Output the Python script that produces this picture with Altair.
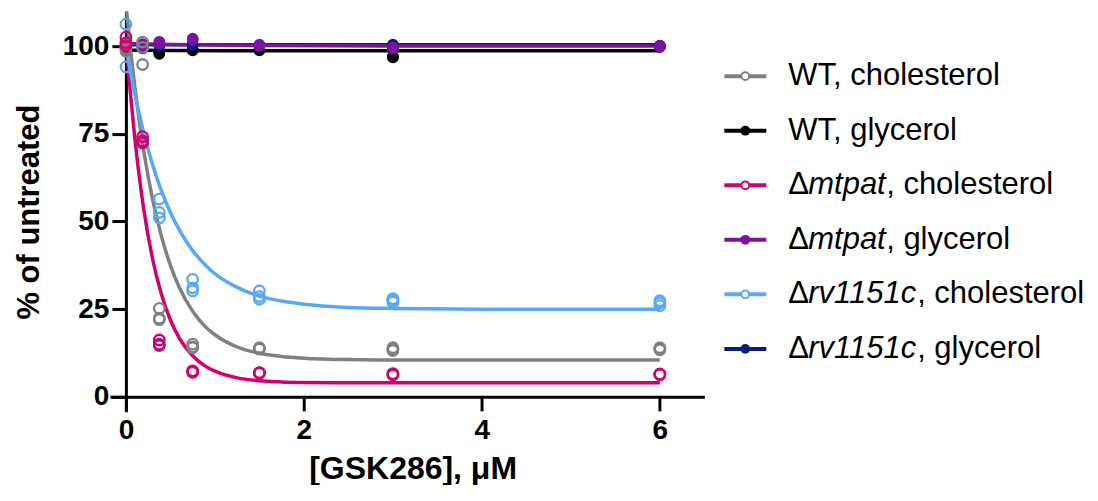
import altair as alt
import pandas as pd

# ---------------- data ----------------
conc = [0, 0.1875, 0.375, 0.75, 1.5, 3, 6]

series = ["WT, cholesterol", "WT, glycerol", "Δmtpat, cholesterol",
          "Δmtpat, glycerol", "Δrv1151c, cholesterol", "Δrv1151c, glycerol"]
colors = ["#808080", "#000000", "#D0006F", "#7A14A0", "#58A8F8", "#0B1C80"]

# replicate measurements (% of untreated) at each concentration
wt_chol = [[100.6, 99.3, 98.6], [101.2, 99.7, 94.8], [25.2, 22.4, 22.0],
           [15.0, 14.2, 14.0], [14.0, 13.8, 13.6], [14.0, 13.5, 13.2], [14.0, 13.6, 13.4]]
wt_gly = [[100.0, 99.2, 98.8], [100.3, 99.8, 99.5], [98.0, 97.8, 98.2],
          [99.0, 98.8, 99.2], [99.0, 98.8, 99.1], [96.8, 97.2, 96.9], [100.0, 99.8, 100.1]]
mtpat_chol = [[102.6, 101.0, 100.2], [74.2, 73.0, 72.4], [16.2, 15.0, 14.6],
              [7.4, 7.0, 7.2], [6.9, 6.7, 6.8], [6.6, 6.2, 6.4], [6.5, 6.3, 6.4]]
mtpat_gly = [[100.5, 99.8, 101.0], [100.4, 100.2, 100.6], [101.1, 100.8, 101.3],
             [102.2, 101.8, 102.0], [100.3, 100.1, 100.4], [99.3, 99.5, 99.6], [100.0, 99.9, 100.1]]
rv_chol = [[106.3, 94.1, 100.0], [100.0, 99.5, 100.2], [56.4, 52.6, 51.0],
           [33.5, 31.1, 30.2], [30.2, 28.6, 27.8], [28.0, 27.6, 27.0], [27.4, 26.8, 26.0]]
rv_gly = [[100.0, 100.2, 99.8], [100.0, 100.3, 99.9], [100.5, 100.2, 100.4],
          [100.6, 100.4, 100.3], [100.2, 100.1, 100.4], [100.3, 100.5, 100.2], [100.0, 100.2, 99.9]]

# fitted curves
curve_x = [0, 0.05, 0.1, 0.15, 0.2, 0.3, 0.4, 0.5, 0.6, 0.75, 0.9, 1.0,
           1.25, 1.5, 1.75, 2.0, 2.5, 3.0, 4.0, 5.0, 6.0]
wt_chol_fit = [112, 99.4, 88.4, 78.7, 70.2, 56.3, 45.7, 37.5, 31.2, 24.4, 19.8, 17.7,
               14.2, 12.4, 11.5, 11.0, 10.6, 10.5, 10.5, 10.5, 10.5]
mtpat_chol_fit = [102, 86.7, 73.8, 62.8, 53.6, 39.3, 29.2, 21.9, 16.7, 11.7, 8.6, 7.3,
                  5.4, 4.6, 4.25, 4.1, 4.0, 4.0, 4.0, 4.0, 4.0]
rv_chol_fit = [100, 92.9, 86.4, 80.6, 75.3, 66.2, 58.7, 52.6, 47.6, 41.7, 37.4, 35.1,
               31.2, 28.7, 27.3, 26.4, 25.5, 25.2, 25.0, 25.0, 25.0]
gly_x = [0, 0.5, 1.5, 3, 6]
wt_gly_fit = [98.9, 98.8, 98.7, 98.7, 98.7]
mtpat_gly_fit = [100.8, 100.5, 100.2, 100.1, 100.1]
rv_gly_fit = [100.4, 100.4, 100.4, 100.4, 100.4]

# legend pieces
leg_prefix = ["WT, cholesterol", "WT, glycerol", "Δ", "Δ", "Δ", "Δ"]
leg_gene = ["", "", "mtpat", "mtpat", "rv1151c", "rv1151c"]
leg_suffix = ["", "", ", cholesterol", ", glycerol", ", cholesterol", ", glycerol"]
leg_kind = ["chol", "gly", "chol", "gly", "chol", "gly"]

FONT = "Liberation Sans"

# ---------------- main plot ----------------
xenc = alt.X("x:Q", scale=alt.Scale(domain=[-0.18, 6.5], nice=False, zero=False),
             axis=alt.Axis(values=[0, 2, 4, 6], title="[GSK286], μM", offset=-15,
                           labelPadding=6, titlePadding=9, format="d", titleX=303,
                           titleFontSize=32))
yenc = alt.Y("y:Q", scale=alt.Scale(domain=[-4.3, 110], nice=False, zero=False),
             axis=alt.Axis(values=[0, 25, 50, 75, 100], title="% of untreated", offset=-16,
                           labelPadding=3, titlePadding=17, format="d", titleFontSize=31))


def curve_layer(xs, ys, color):
    df = pd.DataFrame({"x": xs, "y": ys})
    return alt.Chart(df).mark_line(color=color, strokeWidth=3.5, interpolate="monotone",
                                   clip=True).encode(x=xenc, y=yenc)


def point_layer(reps, color, filled):
    df = pd.DataFrame([{"x": c, "y": v} for c, r in zip(conc, reps) for v in r])
    if filled:
        mark = alt.Chart(df).mark_circle(color=color, size=135, opacity=1)
    else:
        mark = alt.Chart(df).mark_point(shape="circle", filled=False, color=color,
                                        strokeWidth=2.3, size=110, opacity=1)
    return mark.encode(x=xenc, y=yenc)


layers = [
    curve_layer(curve_x, wt_chol_fit, colors[0]),
    curve_layer(curve_x, mtpat_chol_fit, colors[2]),
    curve_layer(curve_x, rv_chol_fit, colors[4]),
    curve_layer(gly_x, wt_gly_fit, colors[1]),
    curve_layer(gly_x, rv_gly_fit, colors[5]),
    curve_layer(gly_x, mtpat_gly_fit, colors[3]),
    point_layer(rv_chol, colors[4], False),
    point_layer(wt_gly, colors[1], True),
    point_layer(rv_gly, colors[5], True),
    point_layer(mtpat_gly, colors[3], True),
    point_layer(wt_chol, colors[0], False),
    point_layer(mtpat_chol, colors[2], False),
]
main = alt.layer(*layers).properties(width=595, height=401)

# ---------------- custom legend ----------------
leg_df = pd.DataFrame({"label": series, "prefix": leg_prefix, "gene": leg_gene,
                       "suffix": leg_suffix, "kind": leg_kind})
ly = alt.Y("label:N", scale=alt.Scale(type="point", domain=series, range=[65, 338], padding=0),
           axis=None)
lcol = alt.Color("label:N", scale=alt.Scale(domain=series, range=colors), legend=None)

base = alt.Chart(leg_df)
leg_line = base.mark_rule(strokeWidth=4).encode(x=alt.value(20), x2=alt.value(62), y=ly, color=lcol)
leg_open = base.transform_filter(alt.datum.kind == "chol").mark_point(
    shape="circle", filled=False, fill="white", strokeWidth=2, size=60, opacity=1
).encode(x=alt.value(41), y=ly, color=lcol)
leg_fill = base.transform_filter(alt.datum.kind == "gly").mark_circle(size=95, opacity=1).encode(
    x=alt.value(41), y=ly, color=lcol)
txt_kw = dict(align="left", baseline="middle", font=FONT, fontSize=31, color="black")
leg_t1 = base.mark_text(**txt_kw).encode(x=alt.value(84), y=ly, text="prefix:N")
leg_t2 = base.transform_filter(alt.datum.gene != "").mark_text(fontStyle="italic", **txt_kw).encode(
    x=alt.value(104), y=ly, text="gene:N")
leg_t3 = base.transform_filter(alt.datum.gene == "mtpat").mark_text(**txt_kw).encode(
    x=alt.value(182), y=ly, text="suffix:N")
leg_t4 = base.transform_filter(alt.datum.gene == "rv1151c").mark_text(**txt_kw).encode(
    x=alt.value(213), y=ly, text="suffix:N")
legend = alt.layer(leg_line, leg_open, leg_fill, leg_t1, leg_t2, leg_t3, leg_t4).properties(
    width=380, height=401)

chart = alt.hconcat(main, legend, spacing=0).properties(
    padding={"left": 5, "top": 3, "right": 5, "bottom": 0}
).configure_view(stroke=None).configure_axis(
    domainColor="black", domainWidth=3, tickColor="black", tickWidth=3, tickSize=14,
    labelFont=FONT, labelFontSize=28, labelFontWeight="bold", labelColor="black",
    titleFont=FONT, titleFontSize=30, titleFontWeight="bold", titleColor="black", grid=False
)

chart.save("out.html", embed_options={"renderer": "svg", "actions": False})
